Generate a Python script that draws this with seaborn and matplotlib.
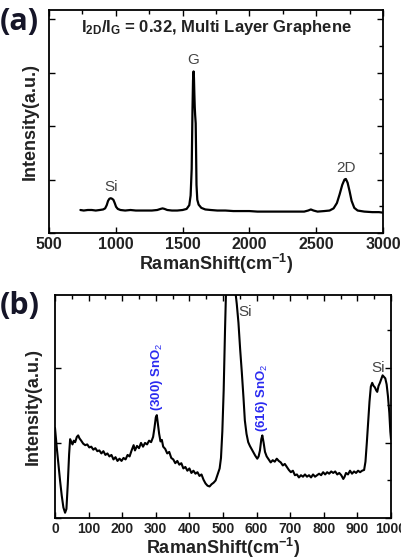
import matplotlib as mpl
import matplotlib.pyplot as plt
from matplotlib.ticker import MultipleLocator
import seaborn as sns
import pandas as pd
import numpy as np

# (a) graphene spectrum
a_shift = [735, 760, 790, 820, 850, 880, 905, 920, 932, 942, 952, 962, 972, 982, 992, 1002,
           1015, 1035, 1070, 1110, 1150, 1190, 1230, 1270, 1310, 1335, 1350, 1365, 1385, 1420,
           1460, 1500, 1530, 1550, 1560, 1568, 1574, 1578, 1582, 1585, 1588, 1591, 1594, 1598,
           1601, 1604, 1610, 1620, 1640, 1670, 1710, 1760, 1820, 1880, 1940, 2000, 2060, 2120,
           2180, 2240, 2300, 2360, 2410, 2440, 2460, 2480, 2510, 2560, 2600, 2630, 2655, 2675,
           2695, 2712, 2722, 2735, 2750, 2765, 2785, 2810, 2860, 2920, 2970, 3000]
a_int = [0.43, 0.42, 0.43, 0.43, 0.42, 0.43, 0.44, 0.46, 0.52, 0.60, 0.64, 0.65, 0.64, 0.62, 0.56, 0.49,
         0.45, 0.43, 0.42, 0.43, 0.42, 0.42, 0.42, 0.42, 0.43, 0.45, 0.46, 0.45, 0.43, 0.42,
         0.42, 0.43, 0.45, 0.52, 0.70, 1.20, 2.30, 2.85, 3.02, 2.90, 2.60, 2.35, 2.20, 2.05,
         1.50, 0.90, 0.62, 0.53, 0.47, 0.44, 0.43, 0.42, 0.42, 0.41, 0.41, 0.41, 0.40, 0.40,
         0.40, 0.40, 0.40, 0.40, 0.40, 0.42, 0.44, 0.42, 0.40, 0.41, 0.42, 0.46, 0.56, 0.72,
         0.90, 1.00, 1.01, 0.94, 0.78, 0.60, 0.47, 0.42, 0.40, 0.39, 0.39, 0.38]

# (b) low-wavenumber spectrum
b_shift = [0, 5, 10, 15, 20, 25, 30, 34, 38, 42, 45, 48, 52, 56, 60, 65, 69, 73, 78, 84, 90, 96,
           102, 108, 114, 120, 126, 132, 138, 144, 150, 156, 162, 168, 174, 180, 186, 192, 198,
           204, 210, 216, 222, 228, 234, 238, 244, 250, 256, 262, 268, 274, 280, 286, 292, 296,
           300, 303, 306, 310, 314, 318, 322, 328, 334, 340, 346, 352, 358, 364, 370, 376, 382,
           388, 394, 400, 406, 412, 418, 424, 430, 436, 442, 448, 454, 460, 466, 472, 478, 484,
           490, 494, 498, 502, 506, 510, 515, 520, 525, 530, 536, 541, 546, 551, 556, 561, 565,
           570, 575, 580, 585, 590, 596, 602, 606, 610, 614, 617, 621, 625, 630, 636, 642, 648,
           654, 660, 666, 672, 678, 684, 690, 696, 702, 708, 714, 720, 726, 732, 738, 744, 750,
           756, 762, 768, 774, 780, 786, 792, 798, 804, 810, 816, 822, 828, 834, 840, 846, 852,
           858, 862, 866, 872, 878, 884, 890, 896, 902, 908, 914, 920, 924, 928, 932, 936, 940,
           944, 948, 952, 956, 959, 963, 967, 971, 975, 979, 983, 987, 991, 995, 998, 1000]
b_int = [1.20, 0.95, 0.72, 0.50, 0.30, 0.14, 0.07, 0.12, 0.45, 0.85, 1.05, 1.02, 0.98, 1.03, 1.01,
         1.08, 1.10, 1.06, 1.03, 0.99, 0.97, 0.98, 0.94, 0.95, 0.91, 0.93, 0.89, 0.90, 0.86, 0.89,
         0.84, 0.86, 0.82, 0.84, 0.78, 0.81, 0.76, 0.79, 0.76, 0.80, 0.78, 0.84, 0.82, 0.90, 0.97,
         0.90, 0.96, 0.93, 1.00, 0.95, 1.00, 0.98, 1.03, 1.01, 1.08, 1.20, 1.34, 1.37, 1.26, 1.12,
         1.02, 1.04, 0.95, 0.92, 0.86, 0.88, 0.80, 0.78, 0.73, 0.76, 0.71, 0.73, 0.66, 0.68, 0.63,
         0.66, 0.60, 0.63, 0.59, 0.61, 0.56, 0.58, 0.51, 0.46, 0.43, 0.42, 0.45, 0.47, 0.50, 0.58,
         0.66, 0.80, 1.15, 1.70, 2.50, 3.20, 4.00, 4.50, 4.30, 3.60, 3.05, 2.85, 2.60, 2.25, 1.94,
         1.60, 1.30, 1.12, 1.01, 0.96, 0.92, 0.88, 0.83, 0.79, 0.82, 0.90, 1.05, 1.10, 1.00, 0.88,
         0.82, 0.78, 0.74, 0.77, 0.75, 0.79, 0.76, 0.74, 0.70, 0.72, 0.68, 0.64, 0.61, 0.63, 0.57,
         0.58, 0.54, 0.57, 0.55, 0.58, 0.55, 0.57, 0.54, 0.58, 0.55, 0.57, 0.59, 0.57, 0.61, 0.58,
         0.61, 0.59, 0.62, 0.60, 0.62, 0.58, 0.60, 0.57, 0.52, 0.55, 0.60, 0.58, 0.63, 0.59, 0.62,
         0.60, 0.63, 0.61, 0.63, 0.64, 0.75, 1.00, 1.28, 1.55, 1.75, 1.80, 1.76, 1.74, 1.70, 1.68,
         1.76, 1.80, 1.85, 1.90, 1.88, 1.86, 1.78, 1.62, 1.40, 1.15, 1.05]

sns.set_theme(style='ticks')
mpl.rcParams['font.family'] = ['Liberation Sans', 'DejaVu Sans']
mpl.rcParams['mathtext.fontset'] = 'custom'
mpl.rcParams['mathtext.rm'] = 'Liberation Sans'
mpl.rcParams['mathtext.bf'] = 'Liberation Sans:bold'
mpl.rcParams['mathtext.it'] = 'Liberation Sans:italic'

df_a = pd.DataFrame({'shift': a_shift, 'intensity': a_int})
df_b = pd.DataFrame({'shift': b_shift, 'intensity': b_int})

fig = plt.figure(figsize=(4.02, 5.6), dpi=100)
ax_a = fig.add_axes([49/402, 1 - 233/560, 334/402, 223/560])
ax_b = fig.add_axes([55/402, 1 - 518/560, 336/402, 223/560])

sns.lineplot(data=df_a, x='shift', y='intensity', ax=ax_a, color='black', lw=1.6)
sns.lineplot(data=df_b, x='shift', y='intensity', ax=ax_b, color='black', lw=1.5)


def style_axes(ax, xmaj, xmin, ymax, fs):
    ax.xaxis.set_major_locator(MultipleLocator(xmaj))
    ax.xaxis.set_minor_locator(MultipleLocator(xmin))
    ax.yaxis.set_major_locator(MultipleLocator(1))
    ax.yaxis.set_minor_locator(MultipleLocator(0.5))
    ax.set_ylim(0, ymax)
    ax.tick_params(which='both', direction='in', colors='black', width=1.0)
    ax.tick_params(which='major', length=4, top=True, bottom=True, left=True, right=True,
                   labelleft=False, pad=3)
    ax.tick_params(which='minor', length=3, top=True, bottom=False, left=False, right=True)
    ax.tick_params(axis='x', labelsize=fs, labelcolor='#222222')
    for lab in ax.get_xticklabels():
        lab.set_fontweight('bold')
    for sp in ax.spines.values():
        sp.set_linewidth(1.3)
        sp.set_color('black')
    ax.set_xlabel('RamanShift(cm$^{\\mathbf{-1}}$)', fontsize=13, fontweight='bold',
                  color='#222222', labelpad=0)
    ax.set_ylabel('Intensity(a.u.)', fontsize=13, fontweight='bold', color='#222222')


ax_a.set_xlim(500, 3000)
style_axes(ax_a, 500, 250, 223/53.5, 11.5)
ax_a.yaxis.set_label_coords(-0.03, 0.5)

ax_b.set_xlim(0, 1000)
style_axes(ax_b, 100, 50, 2.97, 10)
ax_b.yaxis.set_label_coords(-0.039, 0.5)

# annotations panel (a)
ax_a.text(0.5, 0.92, '$\\mathbf{I_{2D}/I_G}$ = 0.32, Multi Layer Graphene', transform=ax_a.transAxes,
          ha='center', va='center', fontsize=12, fontweight='bold', color='#222222')
ax_a.text(965, 0.72, 'Si', ha='center', va='bottom', fontsize=11, color='#444444')
ax_a.text(1582, 3.1, 'G', ha='center', va='bottom', fontsize=11, color='#444444')
ax_a.text(2720, 1.08, '2D', ha='center', va='bottom', fontsize=11, color='#444444')

# annotations panel (b)
blue = '#2a2af0'
ax_b.text(303, 1.42, '(300) SnO$_2$', rotation=90, ha='center', va='bottom', fontsize=9.5,
          fontweight='bold', color=blue)
ax_b.text(617, 1.15, '(616) SnO$_2$', rotation=90, ha='center', va='bottom', fontsize=9.5,
          fontweight='bold', color=blue)
ax_b.text(567, 2.75, 'Si', ha='center', va='center', fontsize=11, color='#444444')
ax_b.text(963, 2.0, 'Si', ha='center', va='center', fontsize=11, color='#444444')

fig.text(0.0, 1 - 7/560, '(a)', ha='left', va='top', fontsize=22, fontweight='bold',
         color='#151528', family=['Open Sans', 'DejaVu Sans'])
fig.text(0.0, 1 - 291/560, '(b)', ha='left', va='top', fontsize=22, fontweight='bold',
         color='#151528', family=['Open Sans', 'DejaVu Sans'])

fig.savefig('out.png', dpi=100)
